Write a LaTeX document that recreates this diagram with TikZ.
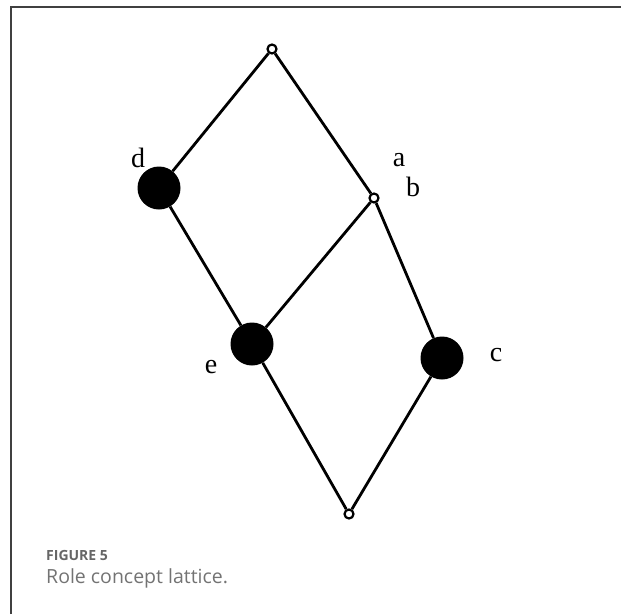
\documentclass[tikz,border=0pt]{standalone}
\usepackage{fontspec}
\setmainfont{Liberation Serif}
\newfontfamily\capfont{Open Sans}
\begin{document}
\begin{tikzpicture}[x=1pt,y=-1pt,
  edge/.style={line width=2.8pt,black},
  small/.style={circle,draw=black,fill=white,line width=2.2pt,minimum size=9pt,inner sep=0pt},
  big/.style={circle,fill=black,minimum size=43pt,inner sep=0pt},
  lab/.style={font=\fontsize{28}{30}\selectfont,inner sep=0pt}]
\useasboundingbox (0,0) rectangle (621,614);
\draw[line width=1.8pt,black!75] (11,614) -- (11,7) -- (621,7);
\node[small] (top) at (272,49) {};
\node[big] (d) at (159,188) {};
\node[small] (ab) at (374,198) {};
\node[big] (e) at (252,344) {};
\node[big] (c) at (442,358) {};
\node[small] (bot) at (349,514) {};
\draw[edge] (top) -- (d);
\draw[edge] (top) -- (ab);
\draw[edge] (d) -- (e);
\draw[edge] (ab) -- (e);
\draw[edge] (ab) -- (c);
\draw[edge] (e) -- (bot);
\draw[edge] (c) -- (bot);
\node[lab] (ld) at (138,158) {d};
\node[lab] (la) at (399,160) {a};
\node[lab] (lb) at (413,187) {b};
\node[lab] (le) at (211,367) {e};
\node[lab] (lc) at (496,355) {c};
\node[anchor=base west,inner sep=0pt,text=black!60,font=\capfont\bfseries\fontsize{14}{16}\selectfont] (fig) at (46,560) {FIGURE 5};
\node[anchor=base west,inner sep=0pt,text=black!55,font=\capfont\fontsize{19.5}{22}\selectfont] (cap) at (46,583) {Role concept lattice.};
\end{tikzpicture}
\end{document}
